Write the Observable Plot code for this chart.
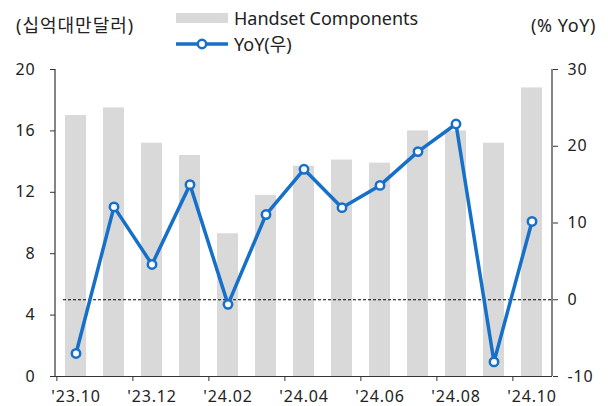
<!DOCTYPE html>
<html>
<head>
<meta charset="utf-8">
<script src="https://cdn.jsdelivr.net/npm/d3@7"></script>
<script src="https://cdn.jsdelivr.net/npm/@observablehq/plot@0.6"></script>
<style>
  html, body { margin: 0; padding: 0; background: #fff; }
  #wrap { position: relative; width: 608px; height: 406px; font-family: "Noto Sans", "Noto Sans CJK KR", sans-serif; color: #222; }
  .hdr { position: absolute; font-size: 18px; line-height: 1; white-space: nowrap; }
  #chart svg { display: block; }
</style>
</head>
<body>
<div id="wrap">
  <div id="chart"></div>
  <div class="hdr" style="left:16px; top:16px; letter-spacing:1px;">(십억대만달러)</div>
  <div class="hdr" style="right:12px; top:16px; letter-spacing:0.6px;">(% YoY)</div>
  <div class="hdr" style="left:176px; top:9px; display:flex; align-items:center;">
    <svg width="52" height="12" style="margin-right:6px"><rect x="0" y="1" width="52" height="10" fill="#d9d9d9"></rect></svg>
    <span>Handset Components</span>
  </div>
  <div class="hdr" style="left:176px; top:35px; display:flex; align-items:center;">
    <svg width="52" height="14" style="margin-right:6px"><line x1="0" x2="52" y1="7" y2="7" stroke="#1670c9" stroke-width="3.5"></line><circle cx="26" cy="7" r="4.2" fill="#fff" stroke="#1670c9" stroke-width="2.5"></circle></svg>
    <span>YoY(우)</span>
  </div>
</div>
<script>
// Data
const months = ["23.10","23.11","23.12","24.01","24.02","24.03","24.04","24.05","24.06","24.07","24.08","24.09","24.10"];
const handset = [17.0, 17.5, 15.2, 14.4, 9.3, 11.8, 13.7, 14.1, 13.9, 16.0, 16.0, 15.2, 18.8];
const yoy = [-7.0, 12.1, 4.6, 15.0, -0.6, 11.1, 17.0, 12.0, 14.9, 19.3, 22.9, -8.1, 10.2];
const leftTicks = [0, 4, 8, 12, 16, 20];
const rightTicks = [-10, 0, 10, 20, 30];
const xTickLabels = ["23.10","23.12","24.02","24.04","24.06","24.08","24.10"];

// Right axis domain [-10, 30] mapped onto left domain [0, 20]
const leftDomain = [0, 20];
const rightDomain = [-10, 30];
const toLeft = v => leftDomain[0] + (v - rightDomain[0]) / (rightDomain[1] - rightDomain[0]) * (leftDomain[1] - leftDomain[0]);
const fromLeft = v => rightDomain[0] + (v - leftDomain[0]) / (leftDomain[1] - leftDomain[0]) * (rightDomain[1] - rightDomain[0]);

const data = months.map((m, i) => ({month: m, value: handset[i], yoy: yoy[i], yoyL: toLeft(yoy[i])}));

const W = 608, H = 406, mL = 55, mR = 56, mT = 69, mB = 30;
const step = (W - mL - mR) / months.length;
const blue = "#1670c9";
const axisColor = "#333";
const tickFont = {fontSize: 16, fontFamily: '"Noto Sans", sans-serif'};

const chart = Plot.plot({
  width: W,
  height: H,
  marginLeft: mL,
  marginRight: mR,
  marginTop: mT,
  marginBottom: mB,
  style: {fontFamily: '"Noto Sans", "Noto Sans CJK KR", sans-serif', fontSize: "16px", color: "#222", background: "#fff", letterSpacing: "0.8px"},
  x: {type: "band", domain: months, paddingInner: 0.44, paddingOuter: 0.22, axis: null},
  y: {domain: leftDomain, axis: null},
  marks: [
    Plot.barY(data, {x: "month", y: "value", fill: "#d9d9d9"}),
    Plot.ruleY([toLeft(0)], {stroke: "#000", strokeWidth: 1, strokeDasharray: "3,2", insetLeft: 8}),
    Plot.line(data, {x: "month", y: "yoyL", stroke: blue, strokeWidth: 3.5}),
    Plot.dot(data, {x: "month", y: "yoyL", r: 4.2, fill: "#fff", stroke: blue, strokeWidth: 2.5}),
    Plot.ruleY([leftDomain[0]], {stroke: axisColor, strokeWidth: 1.2}),
    Plot.axisY({anchor: "left", ticks: leftTicks, label: null, tickSize: 5, tickPadding: 15, stroke: axisColor, ...tickFont}),
    Plot.axisY({anchor: "right", ticks: rightTicks.map(toLeft), label: null, tickFormat: d => String(Math.round(fromLeft(d))), tickSize: 5, tickPadding: 10, stroke: axisColor, ...tickFont}),
    // tick marks at band boundaries
    Plot.axisX({anchor: "bottom", ticks: xTickLabels, label: null, tickFormat: () => "", tickSize: 5, dx: -step / 2, stroke: axisColor}),
    // labels at band centers
    Plot.axisX({anchor: "bottom", ticks: xTickLabels, label: null, tickFormat: d => "'" + d, tickSize: 0, tickPadding: 14, ...tickFont})
  ]
});

// Vertical axis lines at the plot's left and right edges, from the scales' ranges
const xr = chart.scale("x").range;
const yr = chart.scale("y").range;
const svg = d3.select(chart);
[xr[0], xr[1]].forEach(x => {
  svg.append("line")
    .attr("x1", x).attr("x2", x)
    .attr("y1", Math.min(...yr)).attr("y2", Math.max(...yr))
    .attr("stroke", axisColor).attr("stroke-width", 1.2);
});
document.getElementById("chart").appendChild(chart);
</script>
</body>
</html>
